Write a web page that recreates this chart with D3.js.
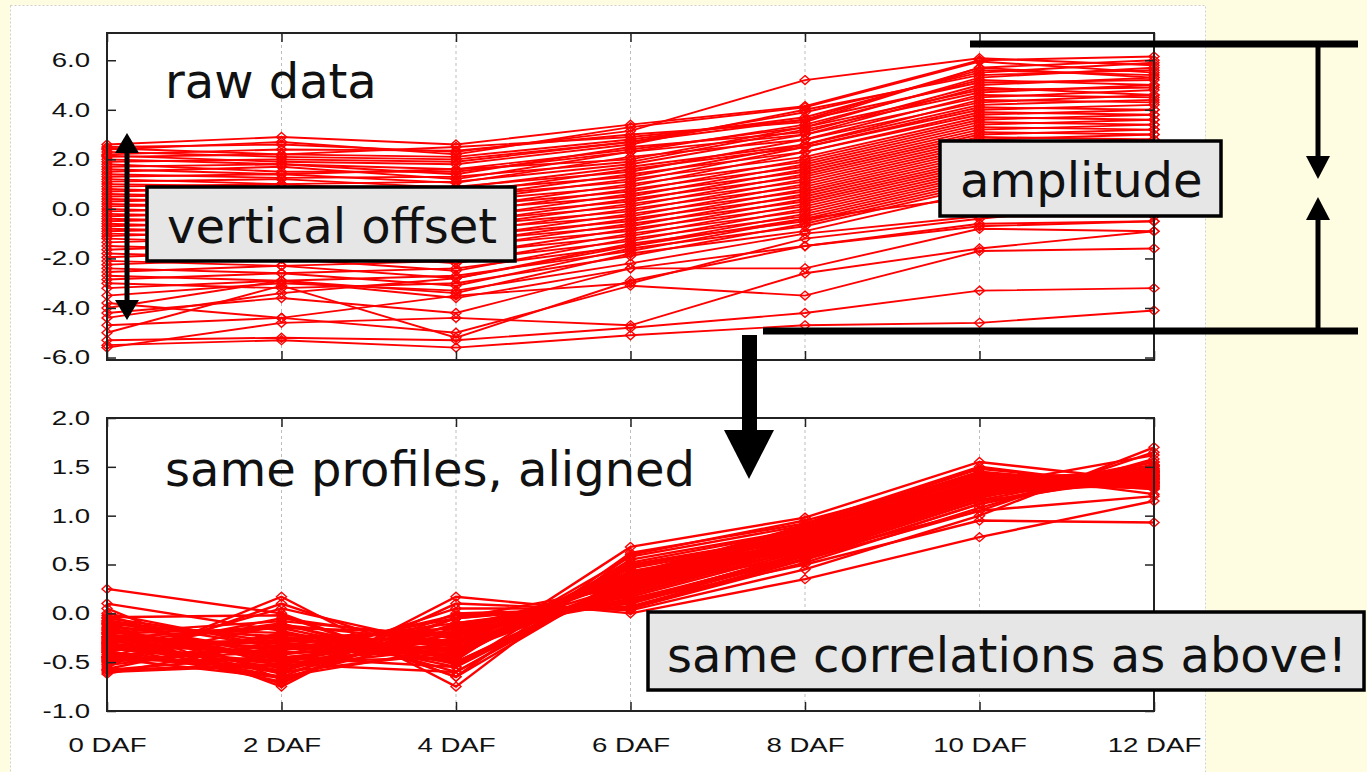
<!DOCTYPE html>
<html><head><meta charset="utf-8">
<script src="https://cdn.jsdelivr.net/npm/d3@7"></script>
<style>html,body{margin:0;padding:0;background:#fffde1;overflow:hidden}</style>
</head><body><svg id="c" width="1367" height="772"></svg>
<script>
const days = [0, 2, 4, 6, 8, 10, 12];
const dayLabels = ["0 DAF", "2 DAF", "4 DAF", "6 DAF", "8 DAF", "10 DAF", "12 DAF"];
const rawTicks = [6, 4, 2, 0, -2, -4, -6];
const alignedTicks = [2, 1.5, 1, 0.5, 0, -0.5, -1];

const rawProfiles = [
  [2.6, 2.9, 2.6, 3.4, 4.15, 6.0, 6.15],
  [2.5, 2.6, 2.3, 3.15, 5.2, 6.08, 5.8],
  [2.45, 2.2, 2.5, 2.9, 3.6, 5.7, 6.0],
  [2.4, 2.7, 2.2, 3.3, 4.1, 5.95, 5.5],
  [2.3, 2.1, 2.0, 2.7, 3.9, 5.5, 5.9],
  [2.2, 2.4, 2.35, 3.0, 3.5, 5.7, 5.3],
  [2.15, 1.9, 1.8, 2.6, 4.0, 5.4, 5.6],
  [2.1, 2.2, 2.1, 2.8, 3.7, 5.6, 5.4],
  [2.0, 1.8, 1.6, 2.4, 3.3, 5.3, 5.7],
  [1.9, 2.0, 1.9, 2.7, 3.6, 5.1, 5.2],
  [1.8, 1.5, 1.5, 2.3, 3.4, 5.2, 5.0],
  [1.7, 1.8, 1.4, 2.5, 3.1, 5.0, 5.3],
  [1.6, 1.4, 1.6, 2.0, 3.3, 4.8, 4.9],
  [1.5, 1.7, 1.2, 2.3, 3.0, 4.9, 4.6],
  [1.4, 1.25, 1.3, 1.9, 3.2, 4.7, 5.0],
  [1.3, 1.4, 1.05, 2.1, 2.8, 4.6, 4.5],
  [1.2, 1.0, 1.1, 1.8, 3.0, 4.5, 4.8],
  [1.1, 1.2, 0.85, 1.7, 2.6, 4.4, 4.3],
  [1.0, 0.9, 0.9, 1.5, 2.8, 4.3, 4.6],
  [0.9, 1.0, 0.6, 1.6, 2.5, 4.1, 4.0],
  [0.8, 0.6, 0.75, 1.3, 2.6, 4.2, 4.4],
  [0.7, 0.85, 0.45, 1.4, 2.3, 3.9, 3.8],
  [0.6, 0.45, 0.5, 1.1, 2.5, 4.0, 4.2],
  [0.5, 0.6, 0.3, 1.2, 2.1, 3.7, 3.6],
  [0.4, 0.25, 0.3, 0.9, 2.3, 3.8, 4.0],
  [0.3, 0.45, 0.0, 1.0, 1.9, 3.5, 3.4],
  [0.2, 0.05, 0.1, 0.7, 2.0, 3.6, 3.8],
  [0.1, 0.2, -0.2, 0.8, 1.7, 3.3, 3.2],
  [0.0, -0.2, -0.05, 0.5, 1.8, 3.4, 3.6],
  [-0.1, 0.05, -0.4, 0.6, 1.5, 3.1, 3.0],
  [-0.2, -0.35, -0.3, 0.3, 1.6, 3.2, 3.4],
  [-0.3, -0.15, -0.6, 0.4, 1.3, 2.9, 2.8],
  [-0.4, -0.55, -0.5, 0.1, 1.4, 3.0, 3.2],
  [-0.5, -0.35, -0.75, 0.2, 1.1, 2.7, 2.6],
  [-0.6, -0.8, -0.7, -0.1, 1.2, 2.8, 3.0],
  [-0.7, -0.55, -1.0, 0.0, 0.9, 2.5, 2.4],
  [-0.8, -0.95, -0.85, -0.3, 1.0, 2.6, 2.8],
  [-0.9, -0.75, -1.2, -0.2, 0.7, 2.3, 2.2],
  [-1.0, -1.15, -1.1, -0.5, 0.8, 2.4, 2.6],
  [-1.1, -0.9, -1.4, -0.4, 0.5, 2.1, 2.0],
  [-1.2, -1.4, -1.3, -0.7, 0.6, 2.2, 2.4],
  [-1.35, -1.15, -1.6, -0.6, 0.3, 1.9, 1.8],
  [-1.5, -1.7, -1.5, -0.9, 0.4, 2.0, 2.2],
  [-1.65, -1.4, -1.9, -0.8, 0.1, 1.7, 1.6],
  [-1.8, -2.0, -1.8, -1.1, 0.2, 1.8, 2.0],
  [-1.95, -1.7, -2.2, -1.0, -0.1, 1.5, 1.4],
  [-2.1, -2.3, -2.1, -1.3, 0.0, 1.6, 1.8],
  [-2.25, -2.0, -2.5, -1.2, -0.3, 1.3, 1.2],
  [-2.4, -2.6, -2.4, -1.5, -0.2, 1.4, 1.6],
  [-2.55, -2.3, -2.8, -1.4, -0.5, 1.1, 1.0],
  [-2.7, -2.9, -2.7, -1.7, -0.4, 1.2, 1.4],
  [-2.85, -2.6, -3.1, -1.6, -0.7, 0.9, 0.8],
  [-3.0, -3.2, -3.0, -1.9, -0.6, 1.0, 1.2],
  [-3.2, -2.9, -3.4, -1.8, -0.9, 0.7, 0.6],
  [-3.5, -3.0, -3.3, -2.2, -1.0, -0.3, -0.3],
  [-4.0, -2.9, -3.6, -2.4, -1.5, -0.6, -0.5],
  [-4.2, -3.6, -4.2, -2.4, -2.4, -0.8, -0.9],
  [-4.7, -4.4, -5.0, -3.1, -3.5, -1.7, -1.6],
  [-5.3, -5.2, -5.3, -4.8, -4.2, -3.3, -3.2],
  [-5.5, -5.3, -5.6, -5.1, -4.7, -4.6, -4.1],
  [-5.0, -3.1, -5.2, -2.9, -1.5, -0.7, -0.5],
  [-3.8, -4.4, -3.5, -3.0, -1.2, -0.4, 0.3],
  [-5.6, -4.6, -4.4, -4.7, -2.6, -1.6, -0.9],
  [-4.4, -3.4, -2.8, -1.5, -0.4, 0.5, 1.0]
];

const alignedProfiles = [
  [-0.55, 0.17, -0.75, 0.60, 0.95, 1.42, 1.40],
  [-0.52, 0.10, -0.50, 0.35, 0.84, 1.34, 1.33],
  [-0.45, 0.05, -0.35, 0.42, 0.78, 1.30, 1.50],
  [0.25, 0.00, -0.65, 0.40, 0.90, 1.45, 1.22],
  [-0.40, -0.05, -0.30, 0.42, 0.70, 1.25, 1.38],
  [-0.20, -0.08, -0.25, 0.29, 0.68, 1.22, 1.55],
  [-0.35, -0.10, -0.60, 0.38, 0.88, 1.40, 1.27],
  [-0.30, -0.12, -0.48, 0.68, 0.98, 1.55, 1.35],
  [-0.25, -0.15, -0.20, 0.20, 0.66, 1.22, 1.34],
  [0.10, -0.18, -0.55, 0.55, 0.86, 1.38, 1.45],
  [-0.15, -0.20, -0.50, 0.30, 0.82, 1.33, 1.30],
  [-0.45, -0.22, -0.30, 0.36, 0.72, 1.28, 1.46],
  [-0.10, -0.25, -0.45, 0.49, 0.80, 1.32, 1.28],
  [-0.38, -0.27, -0.15, 0.17, 0.64, 1.20, 1.42],
  [-0.05, -0.30, -0.50, 0.31, 0.84, 1.36, 1.44],
  [-0.28, -0.31, -0.40, 0.43, 0.76, 1.30, 1.34],
  [-0.50, -0.33, -0.10, 0.10, 0.60, 1.18, 1.55],
  [0.00, -0.35, -0.42, 0.46, 0.78, 1.32, 1.29],
  [-0.22, -0.36, -0.35, 0.24, 0.74, 1.28, 1.48],
  [-0.42, -0.38, -0.05, 0.28, 0.58, 1.15, 1.40],
  [-0.12, -0.40, -0.38, 0.26, 0.76, 1.31, 1.30],
  [-0.32, -0.41, -0.28, 0.38, 0.70, 1.26, 1.51],
  [-0.58, -0.43, -0.02, 0.07, 0.56, 1.12, 1.45],
  [-0.08, -0.45, -0.32, 0.43, 0.72, 1.27, 1.33],
  [-0.26, -0.46, -0.22, 0.19, 0.67, 1.24, 1.52],
  [-0.48, -0.48, -0.36, 0.27, 0.75, 1.30, 1.31],
  [-0.18, -0.50, -0.18, 0.35, 0.65, 1.22, 1.38],
  [-0.36, -0.52, -0.30, 0.22, 0.71, 1.27, 1.48],
  [-0.60, -0.53, 0.05, 0.05, 0.52, 1.08, 1.58],
  [-0.02, -0.55, -0.25, 0.38, 0.69, 1.25, 1.35],
  [-0.30, -0.56, -0.12, 0.12, 0.62, 1.20, 1.47],
  [-0.44, -0.58, -0.20, 0.34, 0.66, 1.23, 1.44],
  [-0.14, -0.60, -0.05, 0.10, 0.58, 1.16, 1.50],
  [-0.24, -0.62, -0.15, 0.31, 0.63, 1.20, 1.46],
  [-0.40, -0.65, 0.00, 0.05, 0.55, 1.12, 1.52],
  [0.05, -0.68, -0.10, 0.14, 0.60, 1.05, 1.65],
  [-0.20, -0.72, 0.10, 0.03, 0.45, 1.00, 1.70],
  [-0.10, -0.75, 0.17, 0.00, 0.35, 0.78, 1.15],
  [-0.33, -0.70, -0.05, 0.12, 0.50, 0.95, 0.93],
  [-0.46, -0.66, -0.20, 0.15, 0.55, 1.05, 1.20],
  [-0.27, -0.30, -0.42, 0.52, 0.85, 1.45, 1.30],
  [-0.37, -0.25, -0.20, 0.12, 0.62, 1.20, 1.45],
  [-0.47, -0.40, -0.35, 0.30, 0.78, 1.33, 1.38],
  [-0.17, -0.45, -0.55, 0.36, 0.86, 1.42, 1.33],
  [-0.57, -0.20, -0.45, 0.58, 0.90, 1.48, 1.30],
  [-0.07, -0.35, -0.20, 0.33, 0.66, 1.24, 1.43],
  [-0.62, -0.28, -0.32, 0.20, 0.70, 1.28, 1.40],
  [-0.34, -0.50, -0.45, 0.48, 0.80, 1.36, 1.37],
  [-0.21, -0.15, -0.52, 0.33, 0.82, 1.40, 1.34],
  [-0.44, -0.55, -0.35, 0.25, 0.74, 1.30, 1.40],
  [-0.29, -0.42, -0.28, 0.41, 0.73, 1.29, 1.39],
  [-0.53, -0.32, -0.36, 0.27, 0.76, 1.32, 1.38],
  [-0.11, -0.24, -0.44, 0.50, 0.80, 1.35, 1.36],
  [-0.39, -0.60, -0.40, 0.28, 0.77, 1.31, 1.41],
  [-0.16, -0.48, -0.22, 0.37, 0.70, 1.26, 1.42],
  [-0.49, -0.12, -0.30, 0.23, 0.72, 1.28, 1.41],
  [-0.24, -0.37, -0.30, 0.40, 0.72, 1.30, 1.37],
  [-0.58, -0.52, -0.60, 0.40, 0.88, 1.44, 1.32],
  [-0.04, -0.02, -0.65, 0.62, 0.92, 1.50, 1.28],
  [-0.31, -0.65, -0.35, 0.26, 0.74, 1.30, 1.62]
];

const W = 1367, H = 772;
const svg = d3.select('#c');
svg.append('rect').attr('width', W).attr('height', H).attr('fill', '#fffde1');
svg.append('rect').attr('x', 10.5).attr('y', 5.5).attr('width', 1195).attr('height', 790)
  .attr('fill', '#ffffff').attr('stroke', '#cfcfcf').attr('stroke-dasharray', '2,2');

const left = 107, right = 1154;
const x = d3.scaleLinear().domain([0, 12]).range([left, right]);
const SX = 1.38;

function diamond(cx, cy) {
  const a = 5, b = 4.5;
  return `M${cx},${cy - b}L${cx + a},${cy}L${cx},${cy + b}L${cx - a},${cy}Z`;
}

function panel(profiles, domain, top, bottom, ticks, showXLabels, lw) {
  const y = d3.scaleLinear().domain(domain).range([bottom, top]);
  const g = svg.append('g');
  g.selectAll('line.grid').data(days.slice(1, -1)).join('line')
    .attr('x1', d => x(d)).attr('x2', d => x(d)).attr('y1', top).attr('y2', bottom)
    .attr('stroke', '#bdbdbd').attr('stroke-width', 1).attr('stroke-dasharray', '3,3');
  const line = d3.line().x((d, i) => x(days[i])).y(d => y(d));
  g.append('g').selectAll('path').data(profiles).join('path')
    .attr('d', line).attr('fill', 'none').attr('stroke', '#ff0000').attr('stroke-width', lw);
  const pts = [];
  profiles.forEach(p => p.forEach((v, i) => pts.push([days[i], v])));
  g.append('g').selectAll('path').data(pts).join('path')
    .attr('d', d => diamond(x(d[0]), y(d[1])))
    .attr('fill', 'none').attr('stroke', '#ff0000').attr('stroke-width', 1.4);
  const fmt = d => d.toFixed(1);
  const ax = g.append('g').attr('transform', `translate(${left},0)`)
    .call(d3.axisLeft(y).tickValues(ticks).tickSize(-9).tickPadding(17).tickFormat(fmt));
  ax.selectAll('text').attr('x', -17 / SX).attr('transform', `scale(${SX},1)`);
  g.append('g').attr('transform', `translate(${right},0)`)
    .call(d3.axisRight(y).tickValues(ticks).tickSize(-9).tickFormat(''));
  g.append('g').attr('transform', `translate(0,${top})`)
    .call(d3.axisTop(x).tickValues(days).tickSize(-9).tickFormat(''));
  const bx = g.append('g').attr('transform', `translate(0,${bottom})`)
    .call(d3.axisBottom(x).tickValues(days).tickSize(-9).tickPadding(27)
      .tickFormat((d, i) => showXLabels ? dayLabels[i] : ''));
  bx.selectAll('text').attr('transform', `scale(${SX},1)`).attr('x', 0);
  g.selectAll('.domain').remove();
  g.selectAll('.tick line').attr('stroke', '#222').attr('stroke-width', 1.5);
  g.selectAll('.tick text').attr('fill', '#111')
    .style('font-family', '"Liberation Sans", Arial, sans-serif').style('font-size', '20px');
  g.append('rect').attr('x', left).attr('y', top).attr('width', right - left).attr('height', bottom - top)
    .attr('fill', 'none').attr('stroke', '#222').attr('stroke-width', 2);
}

panel(rawProfiles, [-6.1, 7.1], 33, 360, rawTicks, false, 1.9);
panel(alignedProfiles, [-1, 2], 418, 711, alignedTicks, true, 2.4);

const font = '"DejaVu Sans", Verdana, sans-serif';
function label(txt, tx, ty) {
  svg.append('text').attr('x', tx).attr('y', ty).text(txt)
    .style('font-family', font).style('font-size', '48px').attr('fill', '#111');
}
function box(bx0, by0, bw, bh, txt, tx, ty) {
  svg.append('rect').attr('x', bx0).attr('y', by0).attr('width', bw).attr('height', bh)
    .attr('fill', '#e6e6e6').attr('stroke', '#000').attr('stroke-width', 3.5);
  label(txt, tx, ty);
}
label('raw data', 165, 98);
label('same profiles, aligned', 165, 486);

svg.append('line').attr('x1', 127).attr('x2', 127).attr('y1', 148).attr('y2', 305)
  .attr('stroke', '#000').attr('stroke-width', 5);
svg.append('path').attr('d', 'M127,133L115,153L139,153Z').attr('fill', '#000');
svg.append('path').attr('d', 'M127,320L115,300L139,300Z').attr('fill', '#000');

box(147, 187, 368, 74, 'vertical offset', 167, 243);

svg.append('line').attr('x1', 970).attr('x2', 1358).attr('y1', 44).attr('y2', 44)
  .attr('stroke', '#000').attr('stroke-width', 7);
svg.append('line').attr('x1', 763).attr('x2', 1358).attr('y1', 331).attr('y2', 331)
  .attr('stroke', '#000').attr('stroke-width', 7);
svg.append('line').attr('x1', 1318).attr('x2', 1318).attr('y1', 44).attr('y2', 160)
  .attr('stroke', '#000').attr('stroke-width', 5);
svg.append('path').attr('d', 'M1306,156L1330,156L1318,179Z').attr('fill', '#000');
svg.append('line').attr('x1', 1318).attr('x2', 1318).attr('y1', 331).attr('y2', 216)
  .attr('stroke', '#000').attr('stroke-width', 5);
svg.append('path').attr('d', 'M1306,220L1330,220L1318,197Z').attr('fill', '#000');

box(940, 141, 281, 75, 'amplitude', 960, 197);

svg.append('rect').attr('x', 742).attr('y', 335).attr('width', 15).attr('height', 97).attr('fill', '#000');
svg.append('path').attr('d', 'M724,430L774,430L749,479Z').attr('fill', '#000');

box(648, 612, 716, 78, 'same correlations as above!', 667, 672);
</script></body></html>
